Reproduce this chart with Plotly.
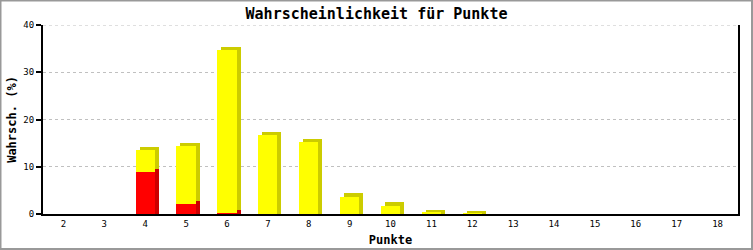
import numpy as np
import plotly.graph_objects as go

categories = [str(i) for i in range(2, 19)]
red_values = [0, 0, 8.9, 2.2, 0.2, 0, 0, 0, 0, 0, 0, 0, 0, 0, 0, 0, 0]
total_values = [0, 0, 13.5, 14.4, 34.8, 16.8, 15.3, 3.7, 1.8, 0.3, 0.1, 0, 0, 0, 0, 0, 0]
y_ticks = [0, 10, 20, 30, 40]

red = np.array(red_values)
yellow = np.array(total_values) - red

# style constants (pseudo-3D depth)
BAR_W = 0.47
DX = 0.098      # depth in category units
DY = 0.64       # depth in value units

MONO = "DejaVu Sans Mono"

fig = go.Figure()

def shadow(vals, base, color):
    h = np.where(vals > 0, vals + DY, 0)
    fig.add_trace(go.Bar(x=categories, y=h, base=base, width=BAR_W,
                         offset=-BAR_W / 2 + DX, marker_color=color,
                         marker_line_width=0, hoverinfo="skip", showlegend=False))

def front(vals, base, color, name):
    fig.add_trace(go.Bar(x=categories, y=vals, base=base, width=BAR_W,
                         offset=-BAR_W / 2, marker_color=color,
                         marker_line_width=0, name=name, showlegend=False))

shadow(yellow, red, "#cccc00")
shadow(red, np.zeros_like(red), "#cc0000")
front(red, np.zeros_like(red), "#ff0000", "rot")
front(yellow, red, "#ffff00", "gelb")

W, H = 753, 250
L, R, T, B = 43, 15, 25, 36
pw, ph = W - L - R, H - T - B

fig.update_layout(
    width=W, height=H,
    margin=dict(l=L, r=R, t=T, b=B, autoexpand=False),
    barmode="overlay",
    bargap=0,
    paper_bgcolor="white",
    plot_bgcolor="white",
    showlegend=False,
    title=dict(text="<b>Wahrscheinlichkeit für Punkte</b>", x=0.5, xanchor="center",
               xref="container", y=1 - 14 / H, yref="container", yanchor="middle",
               font=dict(family=MONO, size=15, color="black")),
    font=dict(family=MONO, color="black"),
    xaxis=dict(type="category", range=[-0.5, 16.5], showgrid=False, automargin=False,
               showline=True, linecolor="black", linewidth=2, ticks="",
               tickfont=dict(family=MONO, size=9, color="black"),
               title=dict(text="<b>Punkte</b>", font=dict(family=MONO, size=12, color="black"),
                          standoff=8),
               zeroline=False),
    yaxis=dict(range=[0, 40], tickvals=y_ticks, showgrid=True, automargin=False,
               gridcolor="#c0c0c0", griddash="3px,3px", gridwidth=1,
               showline=True, linecolor="black", linewidth=2, mirror=True,
               ticks="outside", ticklen=5, tickcolor="black", tickwidth=2,
               tickfont=dict(family=MONO, size=9, color="black"),
               title=dict(text="<b>Wahrsch. (%)</b>", font=dict(family=MONO, size=12, color="black"),
                          standoff=4),
               zeroline=False),
    shapes=[
        dict(type="line", xref="paper", yref="y", x0=0, x1=1, y0=y_ticks[-1], y1=y_ticks[-1],
             line=dict(color="#c0c0c0", width=1, dash="3px,3px"), layer="below"),
        dict(type="rect", xref="paper", yref="paper",
             x0=(-L + 0.5) / pw, x1=1 + (R - 1) / pw,
             y0=(-B + 1) / ph, y1=1 + (T - 0.5) / ph,
             line=dict(color="#999999", width=2), fillcolor="rgba(0,0,0,0)",
             layer="above"),
    ],
)

fig.write_html("out.html")
